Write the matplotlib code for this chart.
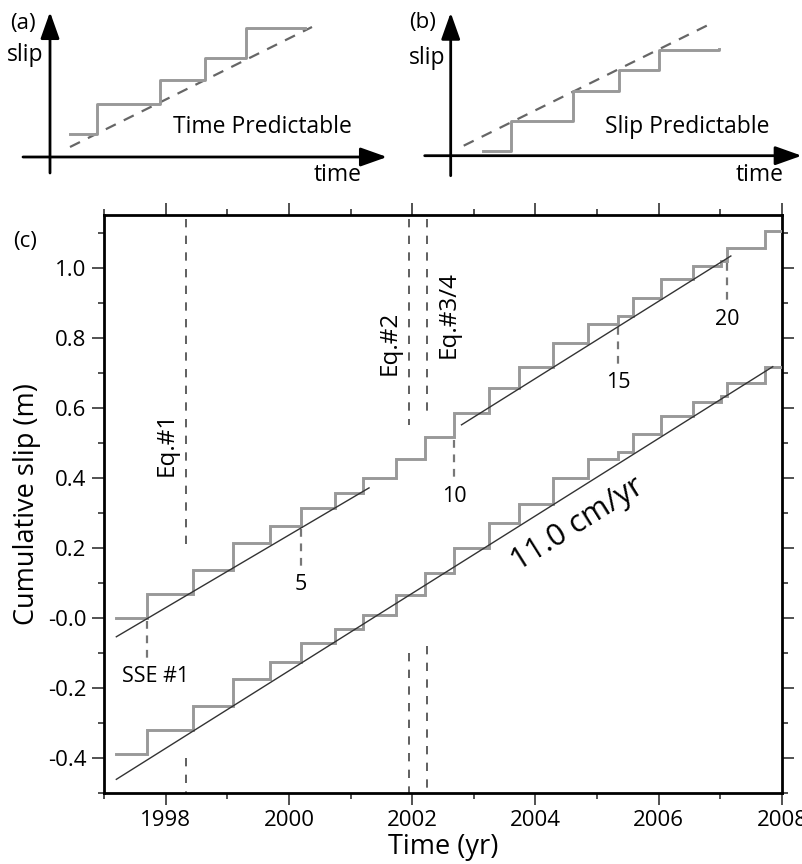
import numpy as np
import matplotlib
matplotlib.use("Agg")
import matplotlib.pyplot as plt
from matplotlib.ticker import FixedLocator, FixedFormatter, MultipleLocator

plt.rcParams['font.family'] = ['Open Sans', 'DejaVu Sans']

# ---------------- data: panel (c) ----------------
start_time = 1997.20
end_time = 2008.0
event_times = [1997.70, 1998.44, 1999.09, 1999.70, 2000.19, 2000.75, 2001.20,
               2001.74, 2002.21, 2002.68, 2003.24, 2003.74, 2004.28, 2004.85,
               2005.34, 2005.59, 2006.04, 2006.56, 2007.01, 2007.11, 2007.73]
# cumulative slip level at the start and after each event (m)
upper_slip = [0.000, 0.067, 0.138, 0.214, 0.263, 0.314, 0.357, 0.398, 0.453,
              0.515, 0.586, 0.657, 0.715, 0.784, 0.839, 0.862, 0.913, 0.967,
              1.005, 1.020, 1.057, 1.105]
lower_slip = [-0.389, -0.321, -0.251, -0.175, -0.126, -0.073, -0.032, 0.008,
              0.065, 0.127, 0.198, 0.270, 0.325, 0.398, 0.453, 0.474, 0.525,
              0.576, 0.617, 0.634, 0.671, 0.717]

# straight-line fits (start/end time, start/end slip)
upper_fit1_t = [1997.20, 2001.30]
upper_fit1_s = [-0.054, 0.371]
upper_fit2_t = [2002.80, 2007.17]
upper_fit2_s = [0.551, 1.033]
lower_fit_t = [1997.20, 2007.85]
lower_fit_s = [-0.461, 0.717]
rate_label = "11.0 cm/yr"

# numbered events (index into event_times) and their labels
marked_events = [0, 4, 9, 14, 19]
marked_labels = ["SSE #1", "5", "10", "15", "20"]

# earthquakes
eq_times = [1998.33, 2001.95, 2002.24]
eq_labels = ["Eq.#1", "Eq.#2", "Eq.#3/4"]
eq_upper_end = [0.203, 0.551, 0.585]     # lower end of the upper dashed segment
eq_lower_start = [-0.400, -0.101, -0.080]  # upper end of the lower dashed segment

y_ticks = [1.0, 0.8, 0.6, 0.4, 0.2, 0.0, -0.2, -0.4]
y_tick_labels = ["1.0", "0.8", "0.6", "0.4", "0.2", "-0.0", "-0.2", "-0.4"]

# ---------------- data: schematic panels (a) and (b) ----------------
a_step_t = [20, 47, 110, 155, 196, 255]
a_step_s = [23, 53, 77, 99, 129, 129]
a_trend_t = [20, 262]
a_trend_s = [10, 130]

b_step_t = [32, 60, 122, 168, 208, 268]
b_step_s = [5, 35, 65, 86, 106, 107]
b_trend_t = [13, 258]
b_trend_s = [10, 131]

STEP_C = '#999999'
FIT_C = '#333333'
EQ_C = '#444444'
MARK_C = '#777777'

W, H = 803, 864
fig = plt.figure(figsize=(W / 100, H / 100), dpi=100)

# ---------------- panel (c) ----------------
ax = fig.add_axes([104 / W, 71 / H, 678 / W, 578 / H])
ax.set_xlim(1997, 2008)
ax.set_ylim(-0.5, 1.15)

t_steps = [start_time] + event_times + [end_time]
ax.plot(t_steps, upper_slip + [upper_slip[-1]], drawstyle='steps-post',
        color=STEP_C, lw=2.1, zorder=3, solid_joinstyle='miter')
ax.plot(t_steps, lower_slip + [lower_slip[-1]], drawstyle='steps-post',
        color=STEP_C, lw=2.1, zorder=3, solid_joinstyle='miter')

ax.plot(upper_fit1_t, upper_fit1_s, color=FIT_C, lw=1.0, zorder=4)
ax.plot(upper_fit2_t, upper_fit2_s, color=FIT_C, lw=1.0, zorder=4)
ax.plot(lower_fit_t, lower_fit_s, color=FIT_C, lw=1.0, zorder=4)

# earthquake markers
for t, lab, ue, ls in zip(eq_times, eq_labels, eq_upper_end, eq_lower_start):
    ax.plot([t, t], [1.14, ue], color=EQ_C, lw=1.2, ls=(0, (5, 5)), zorder=2)
    ax.plot([t, t], [ls, -0.5], color=EQ_C, lw=1.2, ls=(0, (5, 5)), zorder=2)

ax.text(1998.02, 0.498, eq_labels[0], rotation=90, ha='center', va='center', fontsize=17.5)
ax.text(2001.64, 0.785, eq_labels[1], rotation=90, ha='center', va='center', fontsize=17.5)
ax.text(2002.59, 0.867, eq_labels[2], rotation=90, ha='center', va='center', fontsize=17.5)

# numbered event markers
for idx, lab in zip(marked_events, marked_labels):
    t = event_times[idx]
    pre = upper_slip[idx]
    ax.plot([t, t], [pre - 0.008, pre - 0.115], color=MARK_C, lw=1.6,
            ls=(0, (3.5, 3)), zorder=2)
    dx = 0.14 if lab.startswith("SSE") else 0.0
    ax.text(t + dx, pre - 0.168, lab, ha='center', va='center', fontsize=15.5)

# rate label aligned with the lower fit
p0 = ax.transData.transform((lower_fit_t[0], lower_fit_s[0]))
p1 = ax.transData.transform((lower_fit_t[1], lower_fit_s[1]))
ang = np.degrees(np.arctan2(p1[1] - p0[1], p1[0] - p0[0]))
ax.text(2004.68, 0.268, rate_label, rotation=ang, ha='center', va='center',
        fontsize=22, rotation_mode='anchor')

# axes styling
for sp in ax.spines.values():
    sp.set_linewidth(2.0)
ax.xaxis.set_major_locator(MultipleLocator(2))
ax.xaxis.set_minor_locator(MultipleLocator(1))
ax.yaxis.set_major_locator(FixedLocator(y_ticks))
ax.yaxis.set_major_formatter(FixedFormatter(y_tick_labels))
ax.yaxis.set_minor_locator(MultipleLocator(0.1))
ax.tick_params(which='both', direction='out', top=True, right=True,
               labeltop=False, labelright=False, width=1.1, color='#222222')
ax.tick_params(which='major', length=8.5, labelsize=16, pad=3.5)
ax.tick_params(which='minor', length=4.5)
ax.tick_params(axis='y', which='major', pad=4)

fig.text(27 / W, 1 - 504 / H, "Cumulative slip (m)", rotation=90,
         ha='center', va='center', fontsize=19.5)
fig.text(443 / W, 1 - 847 / H, "Time (yr)", ha='center', va='center', fontsize=19.5)
fig.text(25 / W, 1 - 242 / H, "(c)", ha='center', va='center', fontsize=16)

# ---------------- schematic panels ----------------
def schematic(rect, xlim, ylim, st, ss, tt, ts, tag, title, title_xy,
              tag_xy, slip_xy, time_xy, xtip, ytip, xstart, ystart):
    a = fig.add_axes(rect)
    a.set_xlim(*xlim)
    a.set_ylim(*ylim)
    a.axis('off')
    a.plot(tt, ts, color='#666666', lw=1.6, ls=(0, (5, 4)), zorder=2)
    a.plot(st, ss, drawstyle='steps-post', color=STEP_C, lw=2.1, zorder=3)
    arrow = dict(arrowstyle='-|>,head_length=0.9,head_width=0.32', lw=2.0,
                 color='black', shrinkA=0, shrinkB=0, mutation_scale=18)
    a.annotate('', xy=(0, ytip), xytext=(0, ystart), arrowprops=arrow,
               annotation_clip=False)
    a.annotate('', xy=(xtip, 0), xytext=(xstart, 0), arrowprops=arrow,
               annotation_clip=False)
    a.text(*tag_xy, tag, ha='center', va='center', fontsize=16)
    a.text(*slip_xy, "slip", ha='center', va='center', fontsize=16.5)
    a.text(*time_xy, "time", ha='center', va='center', fontsize=16.5)
    a.text(*title_xy, title, ha='center', va='center', fontsize=16.5)
    return a

schematic([0, 674 / H, 400 / W, 190 / H], (-50, 350), (-33, 157),
          a_step_t, a_step_s, a_trend_t, a_trend_s, "(a)", "Time Predictable",
          (212, 30), (-27, 134), (-25, 102), (288, -18),
          337, 145, -27, -16)
schematic([400 / W, 674 / H, 403 / W, 190 / H], (-50.7, 352.3), (-34.3, 155.7),
          b_step_t, b_step_s, b_trend_t, b_trend_s, "(b)", "Slip Predictable",
          (237, 29), (-28, 133), (-24, 98), (309, -19),
          351, 143, -26, -20)

fig.savefig("out.png", dpi=100)
